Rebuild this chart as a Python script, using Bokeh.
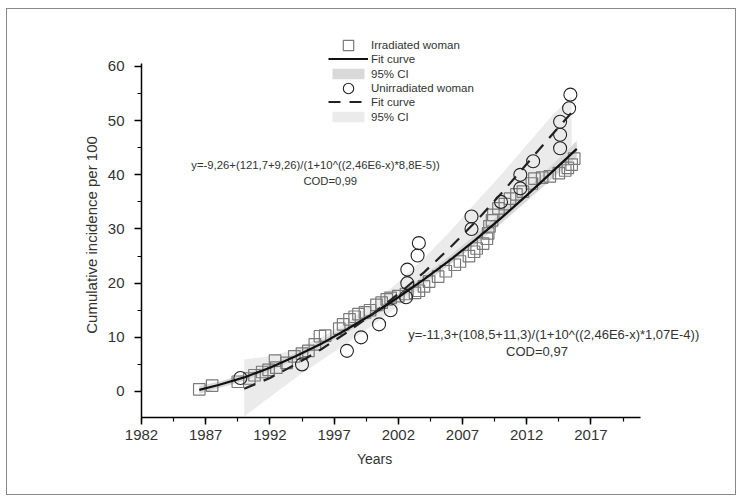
from bokeh.plotting import figure
from bokeh.models import (Range1d, Legend, LegendItem, Label, FixedTicker)
from bokeh.embed import file_html
from bokeh.resources import INLINE

# ---------------- data ----------------
irr_years = [1986.5, 1987.5, 1989.5, 1990.4, 1990.8, 1991.4, 1991.9, 1992.4, 1992.5,
             1993.3, 1993.9, 1994.5, 1995.0, 1995.5, 1995.9, 1996.3, 1997.4, 1997.7,
             1998.2, 1998.6, 1998.9, 1999.4, 1999.8, 2000.3, 2000.7, 2001.1, 2001.4,
             2002.0, 2002.6, 2003.3, 2003.6, 2004.0, 2004.4, 2005.1, 2005.7, 2006.4,
             2006.8, 2007.5, 2007.9, 2008.1, 2008.6, 2008.9, 2009.0, 2009.1, 2009.3,
             2009.4, 2009.8, 2010.3, 2010.7, 2011.2, 2011.7, 2012.4, 2012.6, 2013.2,
             2013.8, 2014.5, 2015.0, 2015.2, 2015.5, 2015.7]
irr_values = [0.4, 1.1, 1.8, 2.4, 3.0, 3.6, 4.0, 5.7, 4.4,
              5.3, 6.5, 7.0, 7.5, 8.7, 10.2, 10.3, 11.6, 12.4,
              13.3, 13.8, 14.3, 14.6, 15.0, 16.0, 16.4, 17.0, 17.3,
              17.6, 18.0, 18.2, 18.6, 19.4, 20.3, 21.2, 22.2, 23.4,
              24.0, 25.0, 25.8, 26.4, 27.3, 28.2, 29.2, 30.5, 31.6,
              32.6, 33.8, 34.6, 35.6, 36.4, 36.9, 38.4, 39.3, 39.5,
              39.7, 40.3, 40.8, 41.3, 41.9, 43.0]

unirr_years = [1989.7, 1994.5, 1998.0, 1999.1, 2000.5, 2001.4, 2002.6, 2002.7, 2002.7,
               2003.5, 2003.6, 2007.7, 2007.7, 2010.0, 2011.5, 2011.5, 2012.5, 2014.6,
               2014.6, 2014.6, 2015.3, 2015.4]
unirr_values = [2.5, 5.0, 7.5, 10.0, 12.4, 15.0, 17.4, 20.0, 22.5,
                25.1, 27.4, 30.0, 32.3, 35.0, 37.5, 40.0, 42.5, 44.9,
                47.4, 49.8, 52.3, 54.8]

# fit curves and confidence bands
fit_irr_years = [1986.5, 1988, 1990, 1992, 1994, 1996, 1998, 2000, 2002, 2004,
                 2006, 2008, 2010, 2012, 2014, 2015.9]
fit_irr_values = [0.3, 1.2, 2.6, 4.4, 6.5, 8.8, 11.5, 14.3, 17.4, 20.7,
                  24.2, 28.0, 32.0, 36.2, 40.6, 44.8]
ci_irr_lower = [-0.4, 0.6, 2.0, 3.8, 5.9, 8.2, 10.9, 13.7, 16.8, 20.0,
                23.4, 27.1, 31.0, 35.1, 39.3, 43.3]
ci_irr_upper = [1.0, 1.8, 3.2, 5.0, 7.1, 9.4, 12.1, 14.9, 18.0, 21.4,
                25.0, 28.9, 33.0, 37.3, 41.9, 46.3]

fit_unirr_years = [1990, 1992, 1994, 1996, 1998, 2000, 2002, 2004, 2006, 2008,
                   2010, 2012, 2014, 2015.5]
fit_unirr_values = [0.5, 2.5, 5.0, 7.8, 10.9, 14.3, 18.0, 22.0, 26.5, 31.3,
                    36.5, 42.0, 47.5, 51.5]
ci_unirr_lower = [-4.6, -1.0, 2.5, 5.7, 8.9, 12.2, 15.8, 19.5, 23.5, 27.8,
                  32.2, 37.0, 41.8, 45.5]
ci_unirr_upper = [5.9, 6.5, 7.8, 10.0, 12.8, 16.2, 20.2, 24.6, 29.5, 34.8,
                  40.0, 45.5, 51.0, 54.5]

x_ticks = [1982, 1987, 1992, 1997, 2002, 2007, 2012, 2017]
y_ticks = [0, 10, 20, 30, 40, 50, 60]

eq1 = "y=-9,26+(121,7+9,26)/(1+10^((2,46E6-x)*8,8E-5))"
cod1 = "COD=0,99"
eq2 = "y=-11,3+(108,5+11,3)/(1+10^((2,46E6-x)*1,07E-4))"
cod2 = "COD=0,97"

FONT = "Liberation Sans"
TXT = "#333333"
NB = "\u00a0"

p = figure(width=730, height=487, output_backend="svg", toolbar_location=None,
           x_range=Range1d(1982, 2026.78), y_range=Range1d(-4.8, 66.46),
           min_border_left=134, min_border_right=21, min_border_top=22,
           min_border_bottom=79)
p.margin = (8, 0, 0, 6)
p.styles = {"border": "1px solid #888888"}
p.xgrid.visible = False
p.ygrid.visible = False
p.outline_line_color = None

for ax in (p.xaxis[0], p.yaxis[0]):
    ax.axis_line_color = "black"
    ax.axis_line_width = 1.5
    ax.major_tick_line_color = "black"
    ax.major_tick_line_width = 1.5
    ax.minor_tick_line_color = "black"
    ax.minor_tick_line_width = 1.2
    ax.major_tick_in = 0
    ax.major_tick_out = 7
    ax.minor_tick_in = 0
    ax.minor_tick_out = 4
    ax.major_label_text_font = FONT
    ax.major_label_text_font_size = "15px"
    ax.major_label_text_color = TXT
    ax.axis_label_text_font = FONT
    ax.axis_label_text_font_style = "normal"
    ax.axis_label_text_color = TXT

p.xaxis[0].bounds = (1982, 2020.9)
p.yaxis[0].bounds = (-4.8, 60.5)
p.xaxis[0].ticker = FixedTicker(ticks=x_ticks,
                                minor_ticks=[1982 + 2.5 * i for i in range(16)])
p.yaxis[0].ticker = FixedTicker(ticks=y_ticks,
                                minor_ticks=[-5 + 5 * i for i in range(14)])
p.xaxis[0].axis_label = "Years" + NB * 28
p.xaxis[0].axis_label_text_font_size = "14px"
p.xaxis[0].major_label_standoff = 5
p.xaxis[0].axis_label_standoff = 8
p.yaxis[0].axis_label = "Cumulative incidence per 100" + NB * 5
p.yaxis[0].axis_label_text_font_size = "15px"
p.yaxis[0].major_label_standoff = 10
p.yaxis[0].axis_label_standoff = 5

# bands
band_u = p.varea(x=fit_unirr_years, y1=ci_unirr_lower, y2=ci_unirr_upper,
                 fill_color="#ebebeb", fill_alpha=1.0)
band_i = p.varea(x=fit_irr_years, y1=ci_irr_lower, y2=ci_irr_upper,
                 fill_color="#cfcfcf", fill_alpha=0.8)

# markers
sq = p.scatter(x=irr_years, y=irr_values, marker="square", size=11.5,
               line_color="#7a7a7a", line_width=1.2, fill_color=None)
ci = p.scatter(x=unirr_years, y=unirr_values, marker="circle", size=13,
               line_color="#222222", line_width=1.1, fill_color=None)

# curves
fit_i = p.line(x=fit_irr_years, y=fit_irr_values, line_color="#111111", line_width=2.2)
fit_u = p.line(x=fit_unirr_years, y=fit_unirr_values, line_color="#222222",
               line_width=2.2, line_dash="12 9")


def make_legend(items, loc, gh, sp):
    lg = Legend(items=items, location=loc, orientation="vertical")
    lg.background_fill_alpha = 0
    lg.border_line_color = None
    lg.label_text_font = FONT
    lg.label_text_font_size = "11.5px"
    lg.label_text_color = TXT
    lg.glyph_width = 40
    lg.glyph_height = gh
    lg.label_height = gh
    lg.label_standoff = 3
    lg.spacing = sp
    lg.padding = 0
    lg.margin = 0
    p.add_layout(lg, "center")


# marker rows (bigger glyph box so the symbols are drawn at ~10 px)
make_legend([LegendItem(label="Irradiated woman", renderers=[sq]),
             LegendItem(label="Unirradiated woman", renderers=[ci])],
            (187, 316), 26, 17)
make_legend([LegendItem(label="Fit curve", renderers=[fit_i]),
             LegendItem(label="95% CI", renderers=[band_i])],
            (187, 337), 13, 2)
make_legend([LegendItem(label="Fit curve", renderers=[fit_u]),
             LegendItem(label="95% CI", renderers=[band_u])],
            (187, 294), 13, 2)

p.add_layout(Label(x=1995.55, y=41.9, text=eq1, text_align="center",
                   text_baseline="middle", text_font=FONT, text_font_size="11.3px",
                   text_color=TXT))
p.add_layout(Label(x=1996.7, y=38.8, text=cod1, text_align="center",
                   text_baseline="middle", text_font=FONT, text_font_size="11.3px",
                   text_color=TXT))
p.add_layout(Label(x=2014.1, y=10.5, text=eq2, text_align="center",
                   text_baseline="middle", text_font=FONT, text_font_size="13px",
                   text_color=TXT))
p.add_layout(Label(x=2012.8, y=7.4, text=cod2, text_align="center",
                   text_baseline="middle", text_font=FONT, text_font_size="13px",
                   text_color=TXT))

open("out.html", "w").write(file_html(p, INLINE))
